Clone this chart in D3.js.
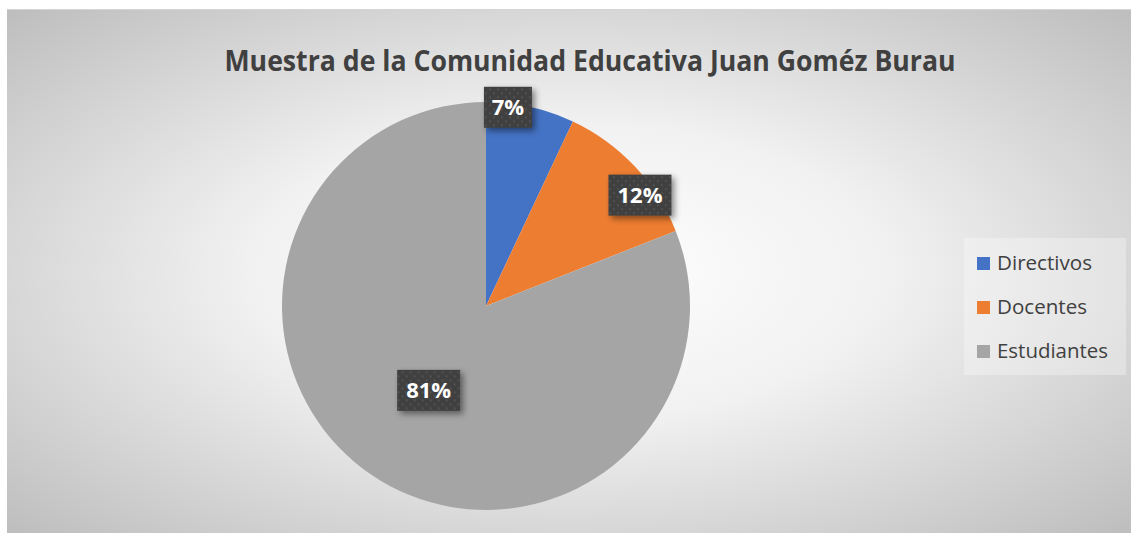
<!DOCTYPE html>
<html>
<head>
<meta charset="utf-8">
<script src="https://cdn.jsdelivr.net/npm/d3@7"></script>
<style>
  html, body { margin: 0; padding: 0; background: #fff; }
  svg { display: block; font-family: "Open Sans", "Noto Sans", sans-serif; }
</style>
</head>
<body>
<div id="chart"></div>
<script>
const title = 'Muestra de la Comunidad Educativa Juan Goméz Burau';
const categories = ['Directivos', 'Docentes', 'Estudiantes'];
const values = [7, 12, 81];
const colors = ['#4472C4', '#ED7D31', '#A5A5A5'];

const width = 1131, height = 533;
const frame = {left: 7, top: 10, right: 1131, bottom: 533};
const cx = 486, cy = 306, radius = 204;

// where Excel's "best fit" put each label: fraction of radius + small angle shift
const labelPlace = [
  {r: 0.98, shift: -0.11},
  {r: 0.93, shift: 0.13},
  {r: 0.50, shift: 0}
];

const svg = d3.select('#chart').append('svg')
    .attr('width', width)
    .attr('height', height);

const defs = svg.append('defs');

const bg = defs.append('radialGradient')
    .attr('id', 'bg')
    .attr('cx', 0.5).attr('cy', 0.5).attr('r', 0.71);
bg.append('stop').attr('offset', 0).attr('stop-color', '#ffffff');
bg.append('stop').attr('offset', 0.4).attr('stop-color', '#f1f1f1');
bg.append('stop').attr('offset', 1).attr('stop-color', '#bdbdbd');

const dots = defs.append('pattern')
    .attr('id', 'dots')
    .attr('patternUnits', 'userSpaceOnUse')
    .attr('width', 8).attr('height', 8);
dots.append('rect').attr('width', 8).attr('height', 8).attr('fill', '#404040');
dots.append('circle').attr('cx', 2).attr('cy', 2).attr('r', 1).attr('fill', '#575757');
dots.append('circle').attr('cx', 6).attr('cy', 6).attr('r', 1).attr('fill', '#575757');

const shadow = defs.append('filter')
    .attr('id', 'shadow')
    .attr('x', '-30%').attr('y', '-30%')
    .attr('width', '170%').attr('height', '170%');
shadow.append('feDropShadow')
    .attr('dx', 3).attr('dy', 3)
    .attr('stdDeviation', 3)
    .attr('flood-color', '#000')
    .attr('flood-opacity', 0.45);

// chart area
svg.append('rect')
    .attr('x', frame.left)
    .attr('y', frame.top)
    .attr('width', frame.right - frame.left)
    .attr('height', frame.bottom - frame.top)
    .attr('fill', 'url(#bg)');
svg.append('line')
    .attr('x1', frame.left).attr('x2', frame.right)
    .attr('y1', frame.top - 0.5).attr('y2', frame.top - 0.5)
    .attr('stroke', '#d4d4d4');

svg.append('text')
    .attr('x', 590)
    .attr('y', 71)
    .attr('text-anchor', 'middle')
    .attr('textLength', 731)
    .attr('lengthAdjust', 'spacingAndGlyphs')
    .style('font-size', '28px')
    .style('font-weight', 'bold')
    .attr('fill', '#404040')
    .text(title);

const data = categories.map((c, i) => ({name: c, value: values[i], color: colors[i]}));

const pie = d3.pie()
    .sort(null)
    .value(d => d.value);

const arc = d3.arc()
    .innerRadius(0)
    .outerRadius(radius);

const arcs = pie(data);

const g = svg.append('g')
    .attr('transform', 'translate(' + cx + ',' + cy + ')');

g.selectAll('path.slice')
    .data(arcs)
    .join('path')
    .attr('class', 'slice')
    .attr('fill', d => d.data.color)
    .attr('d', arc);

// data labels
const labels = g.selectAll('g.label')
    .data(arcs)
    .join('g')
    .attr('class', 'label')
    .attr('transform', (d, i) => {
      const p = labelPlace[i];
      const a = (d.startAngle + d.endAngle) / 2 + p.shift;
      const lx = Math.sin(a) * radius * p.r;
      const ly = -Math.cos(a) * radius * p.r;
      return 'translate(' + lx + ',' + ly + ')';
    });

labels.each(function (d) {
  const lg = d3.select(this);
  const txt = d.data.value + '%';
  const w = txt.length === 2 ? 48 : 63;
  const h = 41;
  lg.append('rect')
      .attr('x', -w / 2)
      .attr('y', -h / 2)
      .attr('width', w)
      .attr('height', h)
      .attr('fill', 'url(#dots)')
      .attr('filter', 'url(#shadow)');
  lg.append('text')
      .attr('text-anchor', 'middle')
      .attr('dy', '0.36em')
      .attr('fill', '#fff')
      .style('font-size', '22px')
      .style('font-weight', 'bold')
      .text(txt);
});

// legend
const legend = svg.append('g')
    .attr('transform', 'translate(964,238)');

legend.append('rect')
    .attr('width', 162)
    .attr('height', 137)
    .attr('fill', '#fff')
    .attr('fill-opacity', 0.3);

const legendLen = [95, 90, 111];

const item = legend.selectAll('g.item')
    .data(data)
    .join('g')
    .attr('class', 'item')
    .attr('transform', (d, i) => 'translate(13,' + (19 + i * 44) + ')');

item.append('rect')
    .attr('width', 13)
    .attr('height', 13)
    .attr('fill', d => d.color);

item.append('text')
    .attr('x', 20)
    .attr('y', 13)
    .attr('textLength', (d, i) => legendLen[i])
    .attr('lengthAdjust', 'spacingAndGlyphs')
    .attr('fill', '#404040')
    .style('font-size', '20px')
    .text(d => d.name);
</script>
</body>
</html>
